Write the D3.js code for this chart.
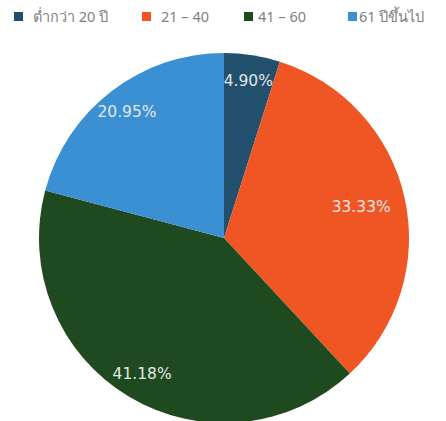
<!DOCTYPE html>
<html>
<head>
<meta charset="utf-8">
<script src="https://cdn.jsdelivr.net/npm/d3@7"></script>
<style>
  html, body { margin: 0; padding: 0; background: #ffffff; }
  svg { display: block; }
</style>
</head>
<body>
<svg id="chart" width="446" height="421"></svg>
<script>
// ---- data ----
const categories = ["ต่ำกว่า 20 ปี", "21 – 40", "41 – 60", "61 ปีขึ้นไป"];
const values = [4.90, 33.33, 41.18, 20.95];
const valueLabels = ["4.90%", "33.33%", "41.18%", "20.95%"];

// ---- styling / layout ----
const colors = ["#224f6c", "#f05524", "#1f4a1f", "#3a90d2"];
const labelRadiusFactor = [0.86, 0.76, 0.86, 0.86];
const cx = 224, cy = 238, R = 185;

const svg = d3.select("#chart");

const pie = d3.pie().sort(null).value(d => d.value);
const data = categories.map((c, i) => ({ cat: c, value: values[i], label: valueLabels[i], i }));
const arcs = pie(data);
const arc = d3.arc().innerRadius(0).outerRadius(R);

const color = d3.scaleOrdinal().domain(categories).range(colors);

const g = svg.append("g").attr("transform", `translate(${cx},${cy})`);
g.selectAll("path.slice")
  .data(arcs)
  .join("path")
  .attr("class", "slice")
  .attr("d", arc)
  .attr("fill", d => color(d.data.cat));

g.selectAll("text.val")
  .data(arcs)
  .join("text")
  .attr("class", "val")
  .attr("transform", d => {
    const r = R * labelRadiusFactor[d.data.i];
    const c = d3.arc().innerRadius(r).outerRadius(r).centroid(d);
    return `translate(${c[0]},${c[1]})`;
  })
  .attr("text-anchor", "middle")
  .attr("dominant-baseline", "central")
  .attr("font-family", "'DejaVu Sans', sans-serif")
  .attr("font-size", 15.5)
  .attr("fill", "#e2e6e8")
  .text(d => d.data.label);

// ---- legend ----
const legendX = [14, 142, 244, 348];
const legendTextDx = [19, 19, 14, 11];
const legend = svg.append("g");
const items = legend.selectAll("g.item")
  .data(categories)
  .join("g")
  .attr("class", "item")
  .attr("transform", (d, i) => `translate(${legendX[i]},12)`);
items.append("rect")
  .attr("width", 9).attr("height", 9)
  .attr("fill", d => color(d));
items.append("text")
  .attr("x", (d, i) => legendTextDx[i]).attr("y", 9.5)
  .attr("font-family", "'Noto Sans', 'DejaVu Sans', sans-serif")
  .attr("font-size", 14.5)
  .attr("fill", "#808080")
  .text(d => d);
</script>
</body>
</html>
